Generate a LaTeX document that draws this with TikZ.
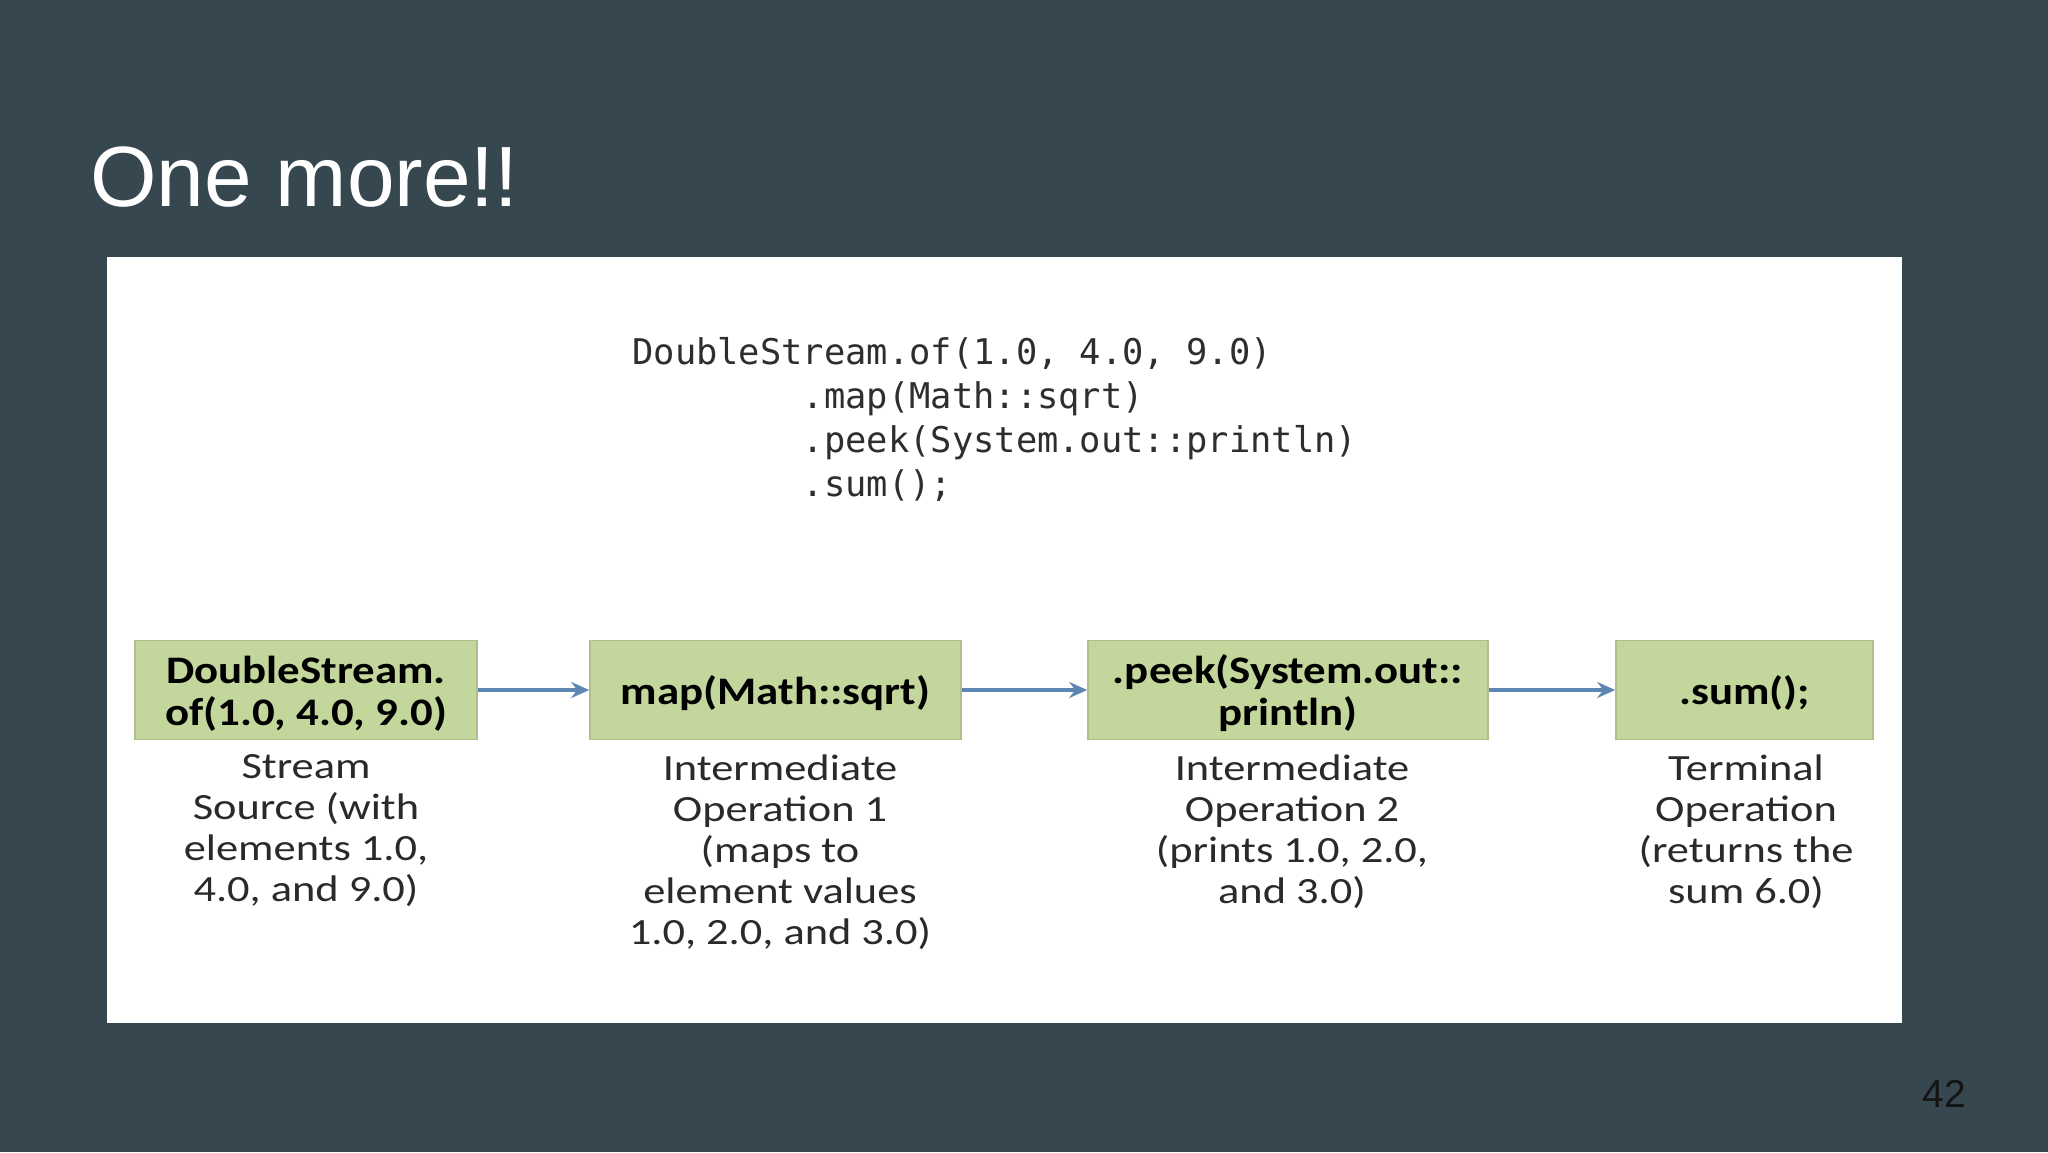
\documentclass[tikz,border=0pt]{standalone}
\usepackage{fontspec}
\setmainfont{Liberation Sans}
\newfontfamily\boxfont[FakeStretch=1.15]{Carlito}
\newfontfamily\descfont[FakeStretch=1.2]{Carlito}
\newfontfamily\codefont{DejaVu Sans Mono}
\usetikzlibrary{arrows.meta}
\definecolor{slidebg}{HTML}{37474F}
\definecolor{boxgreen}{HTML}{C3D69B}
\definecolor{boxedge}{HTML}{B0BE8E}
\definecolor{arrowblue}{HTML}{5E86B3}
\definecolor{codegray}{HTML}{2E2E2E}
\definecolor{descgray}{HTML}{2A2A2A}
\definecolor{pagenum}{HTML}{141414}
\tikzset{
  opbox/.style={draw=boxedge, line width=0.8pt, fill=boxgreen, align=center,
    minimum height=49.5pt, inner sep=2pt, text=black,
    font=\boxfont\bfseries\fontsize{19.5pt}{21pt}\selectfont},
  desc/.style={anchor=north, align=center, inner sep=0pt, text=descgray,
    font=\descfont\fontsize{18.5pt}{20.5pt}\selectfont},
  codeline/.style={anchor=base west, inner sep=0pt, text=codegray,
    font=\codefont\fontsize{17.7pt}{22pt}\selectfont},
  flow/.style={draw=arrowblue, line width=1.6pt, -{Stealth[length=9pt, width=8pt, inset=3pt]}}
}
\begin{document}
\begin{tikzpicture}[x=0.5pt, y=-0.5pt]
\useasboundingbox (0,0) rectangle (2048,1152);
\fill[slidebg] (0,0) rectangle (2048,1152);
\fill[white] (107,257) rectangle (1902,1023);
\node[anchor=base west, inner sep=0pt, text=white, font=\fontsize{42.8pt}{48pt}\selectfont] (title) at (90,206) {One more!!};
\node[anchor=base west, inner sep=0pt, text=pagenum, font=\fontsize{19.5pt}{22pt}\selectfont] (pnum) at (1922,1107) {42};
% code
\node[codeline] (c1) at (632,364) {DoubleStream.of(1.0, 4.0, 9.0)};
\node[codeline] (c2) at (632,408) {\phantom{DoubleSt}.map(Math::sqrt)};
\node[codeline] (c3) at (632,452) {\phantom{DoubleSt}.peek(System.out::println)};
\node[codeline] (c4) at (632,496) {\phantom{DoubleSt}.sum();};
% boxes
\node[opbox, minimum width=171pt] (b1) at (306,690) {\raisebox{-3pt}[\height][\depth]{\begin{tabular}{@{}c@{}}DoubleStream.\\of(1.0, 4.0, 9.0)\end{tabular}}};
\node[opbox, minimum width=185.5pt] (b2) at (775.5,690) {\raisebox{-1.5pt}[\height][\depth]{map(Math::sqrt)}};
\node[opbox, minimum width=200pt] (b3) at (1288,690) {\raisebox{-3pt}[\height][\depth]{\begin{tabular}{@{}c@{}}.peek(System.out::\\println)\end{tabular}}};
\node[opbox, minimum width=128.5pt] (b4) at (1744.5,690) {\raisebox{-1.5pt}[\height][\depth]{.sum();}};
% arrows
\draw[flow] (b1.east) -- (b2.west);
\draw[flow] (b2.east) -- (b3.west);
\draw[flow] (b3.east) -- (b4.west);
% descriptions
\node[desc] (d1) at (306,754) {Stream\\Source (with\\elements 1.0,\\4.0, and 9.0)};
\node[desc] (d2) at (780,754) {Intermediate\\Operation 1\\(maps to\\element values\\1.0, 2.0, and 3.0)};
\node[desc] (d3) at (1292,754) {Intermediate\\Operation 2\\(prints 1.0, 2.0,\\and 3.0)};
\node[desc] (d4) at (1746,754) {Terminal\\Operation\\(returns the\\sum 6.0)};
\end{tikzpicture}
\end{document}
